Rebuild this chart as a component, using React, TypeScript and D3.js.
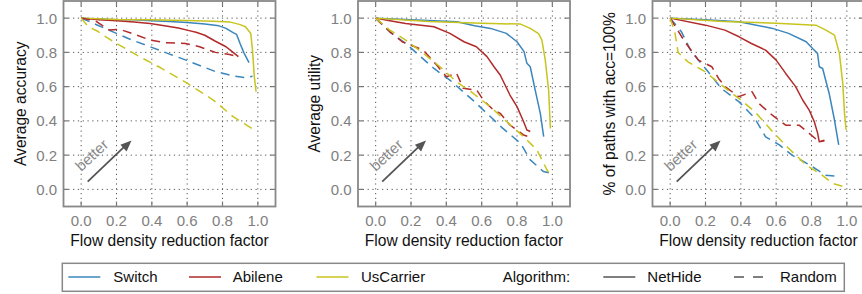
import React from 'react';
import * as d3 from 'd3';

type Pt = [number, number];

// ---- data ----
const xTicks = [0, 0.2, 0.4, 0.6, 0.8, 1.0];
const yTicks = [0, 0.2, 0.4, 0.6, 0.8, 1.0];
const topologies = ['Switch', 'Abilene', 'UsCarrier'];
const algorithms = ['NetHide', 'Random'];
const yLabels = ['Average accuracy', 'Average utility', '% of paths with acc=100%'];
const xLabel = 'Flow density reduction factor';

// panel 1: accuracy
const accSwitchNH: Pt[] = [[0, 1], [0.1, 0.995], [0.2, 0.99], [0.3, 0.99], [0.4, 0.985], [0.5, 0.98], [0.6, 0.975], [0.7, 0.965], [0.78, 0.955], [0.82, 0.94], [0.86, 0.915], [0.88, 0.905], [0.9, 0.85], [0.92, 0.8], [0.95, 0.74]];
const accAbileneNH: Pt[] = [[0, 1], [0.1, 0.99], [0.2, 0.984], [0.3, 0.978], [0.39, 0.968], [0.48, 0.954], [0.55, 0.942], [0.6, 0.93], [0.65, 0.918], [0.7, 0.9], [0.76, 0.865], [0.82, 0.833], [0.86, 0.8], [0.89, 0.775]];
const accUsCarrierNH: Pt[] = [[0, 1], [0.2, 0.992], [0.4, 0.99], [0.6, 0.986], [0.75, 0.982], [0.84, 0.978], [0.9, 0.962], [0.93, 0.95], [0.96, 0.91], [0.97, 0.81], [0.98, 0.66], [0.99, 0.57]];
const accSwitchRnd: Pt[] = [[0, 1], [0.09, 0.96], [0.18, 0.92], [0.28, 0.875], [0.39, 0.833], [0.5, 0.79], [0.59, 0.756], [0.68, 0.72], [0.76, 0.688], [0.86, 0.663], [0.93, 0.652], [0.97, 0.66]];
const accAbileneRnd: Pt[] = [[0, 1], [0.08, 0.985], [0.16, 0.93], [0.22, 0.934], [0.29, 0.91], [0.39, 0.872], [0.48, 0.856], [0.59, 0.852], [0.67, 0.833], [0.76, 0.8], [0.84, 0.788], [0.89, 0.774]];
const accUsCarrierRnd: Pt[] = [[0, 1], [0.04, 0.95], [0.09, 0.925], [0.14, 0.89], [0.2, 0.852], [0.33, 0.775], [0.45, 0.71], [0.6, 0.62], [0.75, 0.52], [0.86, 0.425], [0.93, 0.38], [0.99, 0.34]];

// panel 2: utility
const utilSwitchNH: Pt[] = [[0, 1], [0.2, 0.99], [0.46, 0.979], [0.56, 0.955], [0.65, 0.94], [0.74, 0.911], [0.8, 0.862], [0.84, 0.804], [0.856, 0.736], [0.875, 0.716], [0.903, 0.58], [0.932, 0.444], [0.951, 0.308]];
const utilAbileneNH: Pt[] = [[0, 1], [0.08, 0.985], [0.17, 0.969], [0.33, 0.95], [0.42, 0.911], [0.5, 0.862], [0.57, 0.833], [0.63, 0.775], [0.67, 0.716], [0.705, 0.668], [0.76, 0.551], [0.8, 0.483], [0.837, 0.396], [0.856, 0.347], [0.875, 0.338]];
const utilUsCarrierNH: Pt[] = [[0, 1], [0.3, 0.98], [0.6, 0.97], [0.82, 0.965], [0.875, 0.94], [0.922, 0.91], [0.941, 0.872], [0.96, 0.755], [0.979, 0.58], [0.989, 0.356]];
const utilSwitchRnd: Pt[] = [[0, 1], [0.08, 0.92], [0.17, 0.852], [0.33, 0.706], [0.42, 0.638], [0.55, 0.521], [0.65, 0.424], [0.72, 0.356], [0.82, 0.269], [0.875, 0.172], [0.95, 0.104], [0.99, 0.094]];
const utilAbileneRnd: Pt[] = [[0, 1], [0.08, 0.92], [0.15, 0.862], [0.27, 0.813], [0.345, 0.726], [0.4, 0.658], [0.458, 0.678], [0.496, 0.59], [0.572, 0.58], [0.61, 0.521], [0.667, 0.463], [0.705, 0.444], [0.76, 0.376], [0.837, 0.318], [0.865, 0.308]];
const utilUsCarrierRnd: Pt[] = [[0, 1], [0.08, 0.93], [0.17, 0.872], [0.27, 0.794], [0.364, 0.716], [0.458, 0.628], [0.553, 0.56], [0.648, 0.483], [0.742, 0.395], [0.837, 0.308], [0.913, 0.23], [0.97, 0.113], [0.99, 0.085]];

// panel 3: % of paths with full accuracy
const fullSwitchNH: Pt[] = [[0, 1], [0.2, 0.99], [0.39, 0.979], [0.58, 0.94], [0.67, 0.911], [0.77, 0.862], [0.806, 0.823], [0.834, 0.794], [0.844, 0.716], [0.863, 0.706], [0.9, 0.56], [0.93, 0.405], [0.954, 0.26]];
const fullAbileneNH: Pt[] = [[0, 1], [0.2, 0.959], [0.31, 0.93], [0.39, 0.891], [0.46, 0.852], [0.54, 0.813], [0.6, 0.755], [0.654, 0.677], [0.71, 0.6], [0.75, 0.522], [0.787, 0.463], [0.816, 0.395], [0.835, 0.327], [0.844, 0.278], [0.873, 0.284]];
const fullUsCarrierNH: Pt[] = [[0, 1], [0.3, 0.98], [0.6, 0.97], [0.825, 0.959], [0.882, 0.93], [0.93, 0.901], [0.958, 0.794], [0.977, 0.619], [0.987, 0.444], [0.996, 0.347]];
const fullSwitchRnd: Pt[] = [[0, 1], [0.064, 0.92], [0.12, 0.803], [0.2, 0.706], [0.29, 0.589], [0.39, 0.511], [0.48, 0.414], [0.54, 0.307], [0.62, 0.258], [0.69, 0.2], [0.79, 0.142], [0.88, 0.083], [0.96, 0.074]];
const fullAbileneRnd: Pt[] = [[0, 1], [0.083, 0.862], [0.16, 0.755], [0.236, 0.716], [0.274, 0.648], [0.312, 0.6], [0.387, 0.541], [0.464, 0.57], [0.502, 0.502], [0.578, 0.433], [0.654, 0.375], [0.73, 0.375], [0.787, 0.327], [0.844, 0.278], [0.873, 0.287]];
const fullUsCarrierRnd: Pt[] = [[0, 1], [0.026, 0.92], [0.045, 0.8], [0.1, 0.745], [0.2, 0.686], [0.29, 0.609], [0.39, 0.53], [0.48, 0.453], [0.58, 0.337], [0.67, 0.24], [0.77, 0.142], [0.86, 0.083], [0.92, 0.035], [1.0, 0.01]];

const panels: Pt[][][] = [
  [accSwitchNH, accAbileneNH, accUsCarrierNH, accSwitchRnd, accAbileneRnd, accUsCarrierRnd],
  [utilSwitchNH, utilAbileneNH, utilUsCarrierNH, utilSwitchRnd, utilAbileneRnd, utilUsCarrierRnd],
  [fullSwitchNH, fullAbileneNH, fullUsCarrierNH, fullSwitchRnd, fullAbileneRnd, fullUsCarrierRnd],
];

const colors = ['#3a86bd', '#b22a2a', '#c8c41e'];
const dash = '9,6';
const font = '"Liberation Sans", Arial, sans-serif';

const W = 862;
const H = 294;
const panelLeft = [63.5, 358, 652.5];
const panelW = 212;
const top = 1;
const bottom = 206.5;

function Panel({ idx }: { idx: number }) {
  const left = panelLeft[idx];
  const x = d3.scaleLinear().domain([-0.1, 1.1]).range([left, left + panelW]);
  const y = d3.scaleLinear().domain([-0.1, 1.1]).range([bottom, top]);
  const line = d3.line<Pt>().x(d => x(d[0])).y(d => y(d[1]));
  const series = panels[idx];
  const tl = 5;
  return (
    <g>
      {/* grid */}
      {xTicks.map(t => (
        <line key={'gx' + t} x1={x(t)} x2={x(t)} y1={top} y2={bottom} stroke="#555" strokeWidth={1} strokeDasharray="1.2,3.6" />
      ))}
      {yTicks.map(t => (
        <line key={'gy' + t} x1={left} x2={left + panelW} y1={y(t)} y2={y(t)} stroke="#555" strokeWidth={1} strokeDasharray="1.2,3.6" />
      ))}
      {/* ticks on all sides, pointing in */}
      {xTicks.map(t => (
        <g key={'tx' + t} stroke="#777" strokeWidth={1.2}>
          <line x1={x(t)} x2={x(t)} y1={bottom} y2={bottom - tl} />
          <line x1={x(t)} x2={x(t)} y1={top} y2={top + tl} />
        </g>
      ))}
      {yTicks.map(t => (
        <g key={'ty' + t} stroke="#777" strokeWidth={1.2}>
          <line x1={left} x2={left + tl} y1={y(t)} y2={y(t)} />
          <line x1={left + panelW} x2={left + panelW - tl} y1={y(t)} y2={y(t)} />
        </g>
      ))}
      {/* series */}
      {series.map((s, i) => (
        <path key={'s' + i} d={line(s) || ''} fill="none" stroke={colors[i % 3]} strokeWidth={1.5}
          strokeDasharray={i >= 3 ? dash : undefined} strokeLinejoin="round" />
      ))}
      {/* better arrow */}
      <line x1={x(0.037)} y1={y(0.045)} x2={x(0.255)} y2={y(0.26)} stroke="#555" strokeWidth={1.8} />
      <path d={(() => {
        const x2 = x(0.285), y2 = y(0.285);
        const x1 = x(0.037), y1 = y(0.045);
        const a = Math.atan2(y2 - y1, x2 - x1);
        const L = 11, Wd = 4.5;
        const bx = x2 - L * Math.cos(a), by = y2 - L * Math.sin(a);
        return `M${x2},${y2}L${bx + Wd * Math.sin(a)},${by - Wd * Math.cos(a)}L${bx - Wd * Math.sin(a)},${by + Wd * Math.cos(a)}Z`;
      })()} fill="#555" />
      <text x={x(0.06)} y={y(0.2)} transform={`rotate(-43 ${x(0.06)} ${y(0.2)})`} textAnchor="middle" dy="0.35em"
        fontFamily={font} fontSize={15} fill="#888">better</text>
      {/* frame */}
      <rect x={left} y={top} width={panelW} height={bottom - top} fill="none" stroke="#888" strokeWidth={1.8} />
      {/* tick labels */}
      {xTicks.map(t => (
        <text key={'lx' + t} x={x(t)} y={225.5} textAnchor="middle" fontFamily={font} fontSize={15} fill="#808080">{t.toFixed(1)}</text>
      ))}
      {yTicks.map(t => (
        <text key={'ly' + t} x={left - 6.5} y={y(t)} dy="0.36em" textAnchor="end" fontFamily={font} fontSize={15} fill="#808080">{t.toFixed(1)}</text>
      ))}
      <text x={left + panelW / 2} y={246} textAnchor="middle" fontFamily={font} fontSize={15.6} fill="#111">{xLabel}</text>
      <text transform={`translate(${left - 43} ${(top + bottom) / 2}) rotate(-90)`} textAnchor="middle" dy="0.35em"
        fontFamily={font} fontSize={15.6} fill="#111">{yLabels[idx]}</text>
    </g>
  );
}

function Legend() {
  const ly = 277;
  const items = [
    { label: topologies[0], color: colors[0], dashed: false, lx: 68.3, tx: 113.3 },
    { label: topologies[1], color: colors[1], dashed: false, lx: 189, tx: 232.7 },
    { label: topologies[2], color: colors[2], dashed: false, lx: 316.5, tx: 361 },
    { label: 'Algorithm:', color: null, dashed: false, lx: 0, tx: 502.7 },
    { label: algorithms[0], color: '#555', dashed: false, lx: 603.3, tx: 647.3 },
    { label: algorithms[1], color: '#555', dashed: true, lx: 734, tx: 780 },
  ];
  return (
    <g>
      <rect x={62.3} y={263.3} width={782} height={28} fill="#fff" stroke="#888" strokeWidth={1.5} />
      {items.map(it => (
        <g key={it.label}>
          {it.color && (
            <line x1={it.lx} x2={it.lx + (it.dashed ? 29 : 32)} y1={ly} y2={ly} stroke={it.color} strokeWidth={1.5}
              strokeDasharray={it.dashed ? '10,9' : undefined} />
          )}
          <text x={it.tx} y={ly} dy="0.36em" fontFamily={font} fontSize={15} fill="#111">{it.label}</text>
        </g>
      ))}
    </g>
  );
}

export default function App() {
  return (
    <svg width={W} height={H} style={{ position: 'absolute', left: 0, top: 0, background: '#fff' }}>
      <rect width={W} height={H} fill="#fff" />
      {[0, 1, 2].map(i => <Panel key={i} idx={i} />)}
      <Legend />
    </svg>
  );
}
